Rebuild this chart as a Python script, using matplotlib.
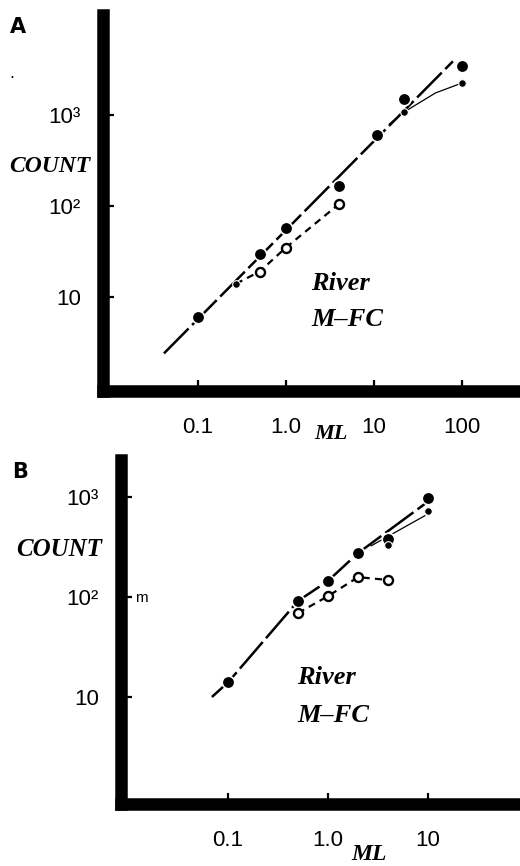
import matplotlib
matplotlib.use("Agg")

import numpy as np
import matplotlib.pyplot as plt

W, H = 520, 866

# panel A data
a_big_x = [0.1, 0.5, 1.0, 4.0, 10.7, 22, 100]
a_big_y = [6, 30, 57, 165, 600, 1500, 3500]
a_small_x = [0.27, 22, 100]
a_small_y = [14, 1080, 2250]
a_open_x = [0.5, 1.0, 4.0]
a_open_y = [19, 35, 105]
a_fit_x = [0.041, 79]
a_fit_y = [2.4, 3900]
a_dash_x = [0.27, 0.5, 1.0, 4.0]
a_dash_y = [14, 19, 35, 105]
a_thin_x = [15, 22, 50, 100]
a_thin_y = [800, 1080, 1750, 2250]

# panel B data
b_big_x = [0.1, 0.5, 1.0, 2.0, 4.0, 10]
b_big_y = [14, 91, 145, 275, 380, 980]
b_small_x = [4.0, 10]
b_small_y = [330, 725]
b_open_x = [0.5, 1.0, 2.0, 4.0]
b_open_y = [69, 102, 158, 148]
b_fit_x = [0.069, 0.1, 0.5, 1.0, 2.0, 10]
b_fit_y = [10, 14, 91, 145, 275, 900]
b_thin_x = [2.7, 9.3]
b_thin_y = [325, 650]

x_ticks_a = [0.1, 1, 10, 100]
x_labels_a = ["0.1", "1.0", "10", "100"]
x_ticks_b = [0.1, 1, 10]
x_labels_b = ["0.1", "1.0", "10"]
y_ticks = [10, 100, 1000]
y_labels = ["10", "10²", "10³"]

num_font = ["Liberation Sans", "DejaVu Sans"]
serif_font = ["Liberation Serif", "DejaVu Serif"]


def px(x, y):
    return x / W, 1 - y / H


def make_axes(fig, left, top, bottom):
    ax = fig.add_axes([left / W, 1 - bottom / H, (W - left) / W, (bottom - top) / H])
    ax.set_xscale("log")
    ax.set_yscale("log")
    for s in ["top", "right"]:
        ax.spines[s].set_visible(False)
    for s in ["left", "bottom"]:
        ax.spines[s].set_linewidth(9)
        ax.spines[s].set_capstyle("projecting")
    ax.minorticks_off()
    ax.tick_params(direction="in", length=8, width=1.6, labelsize=16)
    ax.tick_params(axis="y", pad=16)
    ax.tick_params(axis="x", pad=19)
    ax.set_yticks(y_ticks)
    ax.set_yticklabels(y_labels, family=num_font)
    return ax


def draw(ax, big_x, big_y, small_x, small_y, open_x, open_y, fit_x, fit_y,
         dash_x, dash_y, thin_x, thin_y):
    ax.plot(fit_x, fit_y, color="black", lw=1.8, dashes=(14, 2),
            solid_capstyle="butt")
    ax.plot(dash_x, dash_y, color="black", lw=1.6, dashes=(3.2, 2.4))
    ax.plot(thin_x, thin_y, color="black", lw=0.9)
    ax.plot(big_x, big_y, "o", ms=9, mfc="black", mec="white", mew=1.2)
    ax.plot(small_x, small_y, "o", ms=5.5, mfc="black", mec="white", mew=0.8)
    ax.plot(open_x, open_y, "o", ms=6.5, mfc="white", mec="black", mew=1.7)


fig = plt.figure(figsize=(W / 100, H / 100), dpi=100)

# panel A
ax1 = make_axes(fig, 103, 15, 391)
ax1.set_xlim(10 ** -2.08, 10 ** 2.66)
ax1.set_ylim(10 ** -0.033, 10 ** 4.1)
ax1.set_xticks(x_ticks_a)
ax1.set_xticklabels(x_labels_a, family=num_font)
draw(ax1, a_big_x, a_big_y, a_small_x, a_small_y, a_open_x, a_open_y,
     a_fit_x, a_fit_y, a_dash_x, a_dash_y, a_thin_x, a_thin_y)

# panel B
ax2 = make_axes(fig, 121, 460, 804)
ax2.set_xlim(10 ** -2.07, 10 ** 1.92)
ax2.set_ylim(10 ** -0.07, 10 ** 3.37)
ax2.set_xticks(x_ticks_b)
ax2.set_xticklabels(x_labels_b, family=num_font)
draw(ax2, b_big_x, b_big_y, b_small_x, b_small_y, b_open_x, b_open_y,
     b_fit_x, b_fit_y, b_open_x, b_open_y, b_thin_x, b_thin_y)

# text
fig.text(*px(10, 27), "A", fontsize=15, fontweight="bold", va="center", ha="left")
fig.text(*px(12, 472), "B", fontsize=15, fontweight="bold", va="center", ha="left")
fig.text(*px(9, 73), ".", fontsize=11, va="center", ha="left")
fig.text(*px(50, 166), "COUNT", family=serif_font, style="italic",
         fontweight="bold", fontsize=17, va="center", ha="center")
fig.text(*px(59, 549), "COUNT", family=serif_font, style="italic",
         fontweight="bold", fontsize=18, va="center", ha="center")
fig.text(*px(331, 434), "ML", family=serif_font, style="italic",
         fontweight="bold", fontsize=16, va="center", ha="center")
fig.text(*px(369, 855), "ML", family=serif_font, style="italic",
         fontweight="bold", fontsize=17, va="center", ha="center")
for (x0, y0) in [(311, 283), (297, 678)]:
    fig.text(*px(x0, y0), "River", family=serif_font, style="italic",
             fontweight="bold", fontsize=19, va="center", ha="left")
    fig.text(*px(x0, y0 + 37), "M–FC", family=serif_font, style="italic",
             fontweight="bold", fontsize=19, va="center", ha="left")
fig.text(*px(135, 598), "m", family=num_font, fontsize=11, va="center", ha="left")

fig.savefig("out.png", dpi=100)
